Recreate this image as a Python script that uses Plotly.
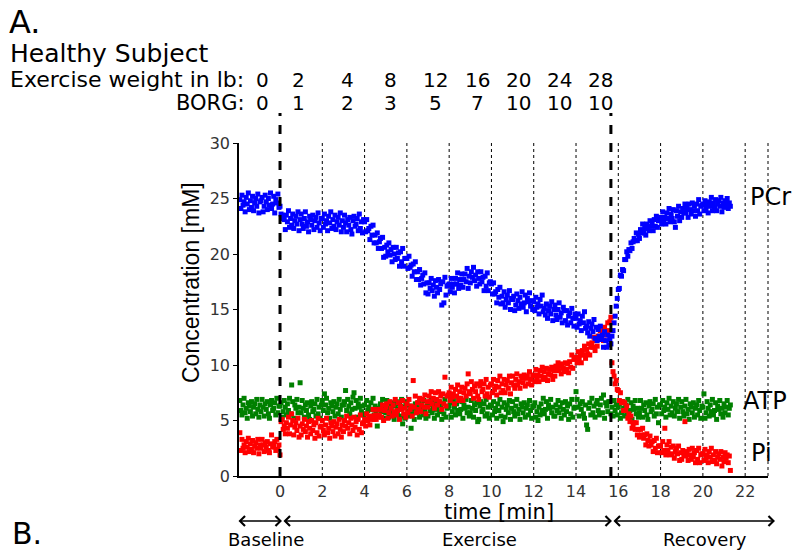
import plotly.graph_objects as go

# One sample every 0.05 min (3 s), starting 1.9 min before exercise onset
T_START = -1.9
DT = 0.05

pcr = [
    # baseline
    24.9, 24.1, 25.3, 24.4, 24.7, 23.8, 25.1, 24.5, 25.5, 24.0, 24.8, 24.2, 25.2, 23.9, 24.6, 25.0, 24.3, 25.4, 23.7, 24.7,
    24.8, 25.1, 23.8, 24.3, 25.3, 24.7, 24.0, 25.0, 24.4, 25.5, 24.1, 24.5, 25.2, 23.7, 24.9, 24.6, 25.4, 24.2,
    # exercise
    24.3, 23.6, 23.5, 23.2, 23.1, 22.2, 23.5, 22.9, 23.9, 22.4, 23.2, 22.6, 23.6, 22.3, 23.0, 23.4, 22.7, 23.8, 22.1, 23.1,
    23.6, 22.7, 22.3, 23.2, 23.8, 22.5, 22.9, 22.0, 23.4, 23.1, 22.6, 23.5, 22.2, 23.0, 23.3, 22.4, 23.7, 22.8, 22.1, 23.2,
    23.2, 22.4, 23.6, 22.7, 23.0, 22.1, 23.4, 22.8, 23.8, 22.3, 23.1, 22.5, 23.5, 22.2, 22.9, 23.3, 22.6, 23.7, 22.0, 23.0,
    22.4, 23.5, 22.8, 22.0, 23.1, 22.6, 23.3, 22.2, 21.8, 23.0, 23.4, 22.5, 22.7, 23.2, 22.1, 23.6, 22.3, 22.9, 21.9, 23.1,
    22.9, 22.0, 23.1, 22.1, 22.3, 21.3, 22.5, 21.7, 22.6, 21.0, 21.7, 21.0, 21.9, 20.5, 21.1, 21.4, 20.5, 21.5, 19.7, 20.6,
    19.8, 20.8, 20.2, 21.0, 19.9, 20.4, 19.3, 20.6, 20.0, 19.5, 20.6, 19.6, 20.1, 18.9, 20.2, 19.3, 20.5, 18.9, 19.6, 19.6,
    19.6, 18.7, 19.8, 18.8, 19.0, 18.0, 19.1, 18.4, 19.3, 17.7, 18.4, 17.7, 18.6, 17.2, 17.8, 18.1, 17.3, 18.3, 16.5, 17.4,
    16.4, 17.4, 16.9, 17.8, 16.7, 17.2, 16.2, 17.6, 17.0, 16.5, 17.7, 16.8, 17.3, 15.4, 17.5, 15.6, 17.9, 16.3, 17.1, 17.2,
    17.3, 16.6, 17.8, 17.0, 17.3, 16.5, 17.8, 17.3, 18.3, 16.9, 17.7, 17.2, 18.2, 17.0, 17.7, 18.2, 17.5, 18.7, 16.9, 18.0,
    17.4, 18.4, 17.9, 18.8, 17.6, 18.1, 17.1, 18.4, 17.8, 17.3, 18.4, 17.5, 17.9, 16.7, 18.0, 17.1, 18.3, 16.7, 17.4, 17.5,
    17.3, 16.4, 17.4, 16.4, 16.6, 15.6, 16.8, 16.1, 17.0, 15.5, 16.2, 15.6, 16.6, 15.2, 15.9, 16.3, 15.6, 16.7, 15.0, 16.0,
    15.9, 16.2, 14.9, 15.4, 16.4, 15.8, 15.1, 16.1, 15.5, 16.6, 15.2, 15.6, 16.3, 14.8, 16.0, 15.7, 16.5, 15.3, 15.8, 15.0,
    15.7, 14.9, 16.1, 15.2, 15.5, 14.6, 15.9, 15.3, 16.3, 14.8, 15.1, 14.5, 15.5, 14.2, 14.9, 15.3, 14.6, 15.7, 14.0, 15.0,
    15.4, 14.5, 14.1, 15.0, 15.6, 14.3, 14.7, 13.8, 15.2, 14.9, 14.0, 14.9, 13.6, 14.4, 14.7, 13.8, 15.1, 14.2, 13.5, 14.6,
    14.2, 13.4, 14.6, 13.7, 14.0, 13.1, 14.4, 13.8, 14.8, 13.3, 13.5, 12.9, 13.9, 12.6, 13.3, 13.7, 13.0, 14.1, 12.4, 13.4,
    12.2, 13.2, 12.6, 13.5, 12.3, 12.7, 11.6, 13.0, 12.2, 11.6, 12.7, 11.8,
    12.3, 11.9,
    # recovery
    12.6, 13.1, 13.8, 14.4, 15.3, 16.0,
    16.8, 16.9, 18.1, 18.0, 18.6, 18.5, 19.5, 19.5, 20.2, 19.8, 20.4, 20.3, 21.0, 20.5, 21.1, 21.4, 21.2, 21.9, 21.2, 21.8,
    21.4, 22.2, 21.9, 22.7, 21.9, 22.3, 21.7, 22.7, 22.4, 22.1, 23.0, 22.5, 22.8, 22.1, 23.1, 22.5, 23.4, 22.4, 23.0, 23.1,
    23.3, 22.7, 23.8, 23.0, 23.3, 22.7, 23.7, 23.2, 24.1, 22.9, 23.6, 23.2, 24.0, 22.9, 22.4, 23.9, 23.4, 24.3, 23.0, 23.8,
    23.3, 24.1, 23.7, 24.5, 23.7, 24.1, 23.3, 24.5, 24.0, 23.6, 24.6, 23.9, 24.3, 23.4, 24.5, 23.9, 24.9, 23.6, 24.3, 24.4,
    24.5, 23.9, 24.8, 24.1, 24.4, 23.7, 24.7, 24.3, 25.1, 23.9, 24.6, 24.2, 24.9, 23.9, 24.5, 24.8, 24.3, 25.1, 23.8, 24.6,
    24.2, 24.8, 24.4, 25.0, 24.1, 24.6, 24.3,
]

atp = [
    # baseline
    6.8, 5.9, 5.5, 6.4, 7.0, 5.7, 6.1, 5.2, 6.6, 6.3, 5.8, 6.7, 5.4, 6.2, 6.5, 5.6, 6.9, 6.0, 5.3, 6.4,
    5.8, 6.9, 6.2, 5.4, 6.5, 6.0, 6.7, 5.6, 5.2, 6.4, 6.8, 5.9, 6.1, 6.6, 5.5, 7.0, 5.7, 6.3,
    # exercise
    6.3, 6.6, 5.3, 5.8, 6.8, 6.2, 5.5, 6.5, 5.9, 7.0, 5.6, 8.2, 6.7, 5.2, 6.4, 6.1, 6.9, 5.7, 6.2, 8.4,
    5.7, 6.8, 6.1, 5.3, 6.4, 5.9, 6.6, 5.5, 5.1, 6.3, 6.7, 5.8, 6.0, 6.5, 5.4, 6.9, 5.6, 6.2, 5.2, 6.4,
    6.8, 5.9, 7.4, 6.4, 7.0, 5.7, 6.1, 5.2, 6.6, 6.3, 5.8, 6.7, 5.4, 6.2, 6.5, 5.6, 6.9, 6.0, 5.3, 6.4,
    6.4, 6.7, 7.7, 5.9, 6.9, 6.3, 5.6, 6.6, 6.0, 7.1, 7.5, 6.1, 6.8, 5.3, 6.5, 6.2, 7.0, 5.8, 6.3, 5.5,
    6.4, 5.6, 6.8, 5.9, 6.2, 5.3, 6.6, 6.0, 7.0, 5.5, 6.3, 5.7, 4.5, 5.4, 6.1, 6.5, 5.8, 6.9, 5.2, 6.2,
    5.7, 6.8, 6.1, 5.3, 6.4, 5.9, 6.6, 5.5, 5.1, 6.3, 6.7, 5.8, 6.0, 6.5, 5.4, 6.9, 4.7, 6.2, 5.2, 6.4,
    6.7, 5.8, 5.4, 6.3, 4.3, 5.6, 6.0, 5.1, 6.5, 6.2, 5.7, 6.6, 5.3, 6.1, 6.4, 5.5, 6.8, 5.9, 5.2, 6.3,
    5.4, 6.4, 5.9, 6.8, 5.7, 6.2, 5.2, 6.6, 6.0, 5.5, 6.7, 5.8, 6.3, 5.1, 6.5, 5.6, 6.9, 5.3, 6.1, 6.2,
    6.3, 6.6, 5.3, 5.8, 6.8, 6.2, 5.5, 6.5, 5.9, 7.0, 5.6, 6.0, 6.7, 5.2, 6.4, 6.1, 6.9, 5.7, 6.2, 5.4,
    5.7, 6.8, 6.1, 5.3, 6.4, 5.9, 6.6, 4.9, 5.1, 6.3, 6.7, 5.8, 6.0, 6.5, 5.4, 6.9, 5.6, 6.2, 5.2, 6.4,
    6.3, 5.5, 6.7, 5.8, 6.1, 5.2, 6.5, 5.9, 6.9, 5.4, 6.2, 4.9, 6.6, 5.3, 6.0, 6.4, 5.7, 6.8, 5.1, 6.1,
    6.7, 5.8, 5.4, 6.3, 6.9, 5.6, 6.0, 5.1, 6.5, 6.2, 5.7, 6.6, 5.3, 6.1, 6.4, 5.5, 6.8, 5.9, 5.2, 6.3,
    6.3, 6.6, 5.3, 5.8, 5.0, 6.2, 5.5, 6.5, 5.9, 7.0, 5.6, 6.0, 6.7, 5.2, 6.4, 6.1, 6.9, 5.7, 6.2, 5.4,
    5.4, 6.4, 5.9, 6.8, 5.7, 6.2, 5.2, 6.6, 6.0, 5.5, 6.7, 5.8, 6.3, 5.1, 6.5, 5.6, 6.9, 5.3, 6.1, 6.2,
    7.6, 6.9, 6.2, 5.4, 6.5, 6.0, 6.7, 5.6, 5.2, 6.4, 4.6, 4.2, 6.1, 6.6, 5.5, 7.0, 5.7, 6.3, 5.3, 6.5,
    6.8, 5.9, 5.5, 6.4, 7.0, 5.7, 7.3, 5.2, 6.6, 6.3, 5.8, 6.7,
    6.7, 5.6,
    # recovery
    6.2, 5.4, 6.8, 5.9, 6.4, 5.5,
    6.2, 6.5, 5.2, 5.7, 6.7, 6.1, 5.4, 6.4, 5.8, 6.9, 5.5, 5.9, 6.6, 5.1, 6.3, 6.0, 6.8, 5.6, 6.1, 5.3,
    5.7, 6.8, 6.1, 5.3, 6.4, 5.9, 6.6, 5.5, 5.1, 6.3, 6.7, 5.8, 6.0, 6.5, 5.4, 6.9, 5.6, 6.2, 4.8, 6.4,
    6.4, 5.6, 6.8, 5.9, 6.2, 5.3, 6.6, 6.0, 7.0, 5.5, 6.3, 5.7, 6.7, 5.4, 6.1, 6.5, 5.8, 6.9, 5.2, 6.2,
    6.7, 5.8, 5.4, 6.3, 6.9, 5.6, 6.0, 5.1, 6.5, 6.2, 5.7, 6.6, 5.3, 6.1, 6.4, 5.5, 6.8, 5.9, 5.2, 6.3,
    6.2, 7.4, 5.2, 5.7, 6.7, 6.1, 5.4, 6.4, 5.8, 6.9, 5.5, 5.9, 6.6, 5.1, 6.3, 6.0, 6.8, 5.6, 6.1, 5.3,
    6.5, 5.7, 6.2, 6.8, 5.5, 6.1, 6.4,
]

pi = [
    # baseline
    3.9, 2.3, 3.3, 2.5, 2.8, 2.1, 3.1, 2.6, 3.4, 2.2, 2.9, 2.4, 3.2, 2.1, 2.7, 3.0, 2.5, 3.3, 2.0, 2.8,
    2.5, 3.3, 2.8, 2.2, 3.0, 2.6, 3.1, 2.3, 2.1, 2.9, 3.7, 2.6, 2.7, 3.1, 2.3, 3.3, 2.4, 2.8,
    # exercise
    1.9, 4.9, 5.1, 4.2, 4.5, 3.8, 4.8, 4.3, 5.3, 3.8, 4.6, 5.6, 5.0, 3.7, 4.4, 4.8, 4.1, 5.2, 3.5, 4.5,
    3.7, 4.7, 4.2, 5.1, 4.0, 4.5, 3.5, 4.9, 4.3, 3.8, 5.0, 4.1, 4.6, 3.4, 4.8, 3.9, 5.2, 3.6, 4.4, 4.5,
    5.0, 4.1, 3.7, 4.6, 5.2, 3.9, 4.3, 3.4, 4.8, 4.5, 4.0, 4.9, 3.6, 4.4, 4.7, 3.8, 5.1, 4.2, 3.5, 4.6,
    4.0, 5.0, 4.5, 5.4, 4.3, 4.8, 3.8, 5.2, 4.6, 4.1, 5.3, 4.4, 4.9, 3.7, 5.1, 4.2, 5.5, 3.9, 4.7, 4.8,
    5.1, 4.5, 5.6, 5.0, 5.3, 4.6, 5.4, 5.1, 6.0, 5.1, 5.5, 5.1, 6.0, 5.3, 5.5, 6.0, 5.3, 6.4, 5.0, 5.9,
    6.2, 6.5, 5.2, 5.7, 6.7, 6.1, 5.4, 6.4, 5.8, 6.9, 5.5, 5.9, 6.6, 5.1, 6.3, 6.0, 6.8, 5.6, 6.1, 5.3,
    6.5, 5.7, 6.9, 6.0, 6.3, 5.4, 8.6, 6.2, 7.2, 5.7, 6.6, 6.0, 7.0, 5.8, 6.4, 6.9, 6.2, 7.3, 5.6, 6.7,
    6.2, 7.2, 6.7, 7.6, 6.5, 7.0, 6.1, 7.5, 6.9, 6.4, 7.6, 6.7, 7.2, 6.0, 7.4, 6.5, 8.9, 6.3, 7.2, 7.3,
    7.5, 6.8, 8.0, 7.1, 7.4, 6.5, 7.8, 7.2, 8.2, 6.8, 7.6, 7.0, 8.0, 6.8, 7.5, 7.9, 7.2, 8.3, 9.2, 7.6,
    7.4, 8.5, 7.8, 7.0, 8.1, 7.6, 8.3, 7.2, 6.9, 8.1, 8.5, 7.6, 7.8, 8.3, 7.2, 8.7, 7.4, 8.0, 7.1, 8.2,
    8.3, 7.5, 8.7, 7.8, 8.1, 7.3, 8.6, 8.0, 9.0, 7.5, 8.3, 7.7, 8.7, 7.5, 8.2, 8.6, 7.9, 9.0, 7.4, 8.4,
    9.0, 8.2, 7.9, 8.7, 9.2, 8.2, 8.5, 7.9, 9.0, 8.8, 8.4, 9.1, 8.1, 8.8, 9.0, 8.3, 9.4, 8.7, 8.2, 9.0,
    9.1, 8.5, 9.6, 8.8, 9.1, 8.5, 9.5, 9.0, 9.8, 8.7, 9.4, 8.9, 9.7, 8.6, 9.2, 9.6, 9.1, 9.8, 8.7, 9.5,
    9.0, 9.9, 9.5, 10.2, 9.5, 9.9, 9.2, 10.1, 9.7, 9.4, 10.2, 9.6, 10.1, 9.3, 10.3, 9.8, 10.9, 9.7, 10.5, 10.6,
    10.7, 10.2, 11.2, 10.5, 10.9, 10.2, 11.3, 10.9, 11.7, 10.6, 11.4, 11.0, 11.9, 10.9, 11.6, 12.0, 11.6, 12.5, 11.3, 12.2,
    11.7, 12.6, 12.3, 13.1, 12.4, 12.9, 12.2, 13.4, 13.0, 12.7, 13.8, 13.1,
    13.9, 14.3,
    # recovery
    10.2, 9.4, 9.0, 8.3, 8.6, 7.8,
    7.7, 6.8, 7.5, 6.6, 6.7, 5.9, 6.6, 5.9, 6.3, 5.2, 5.6, 4.9, 5.4, 4.3, 4.6, 4.8, 4.2, 4.8, 3.7, 4.2,
    3.5, 4.2, 3.7, 4.3, 3.4, 3.7, 2.8, 3.8, 3.2, 2.7, 3.6, 2.8, 3.1, 2.2, 3.2, 2.5, 3.4, 2.1, 2.7, 2.7,
    2.7, 2.1, 3.1, 2.3, 4.3, 1.9, 2.8, 2.3, 3.1, 1.9, 2.6, 2.0, 2.7, 1.6, 2.2, 2.5, 2.0, 2.7, 1.4, 2.1,
    1.5, 2.3, 1.9, 4.9, 1.8, 2.2, 1.4, 2.4, 1.9, 1.5, 2.5, 1.7, 2.1, 1.2, 2.3, 1.5, 2.5, 1.2, 1.9, 2.0,
    2.0, 1.4, 2.4, 1.6, 1.9, 1.2, 2.2, 1.7, 2.5, 1.3, 1.9, 1.4, 2.2, 1.1, 1.7, 2.0, 1.5, 2.2, 0.9, 1.7,
    1.3, 2.1, 1.6, 1.9, 1.2, 1.8, 0.5,
]

# Stage boundaries [min] and protocol table
exercise_start = 0.0
exercise_end = 15.65
grid_minutes = [2, 4, 6, 8, 10, 12, 14, 16, 18, 20, 22]
weights_lb = ["0", "2", "4", "8", "12", "16", "20", "24", "28"]
borg_scores = ["0", "1", "2", "3", "5", "7", "10", "10", "10"]
stage_names = ["Baseline", "Exercise", "Recovery"]
metabolite_names = ["PCr", "ATP", "Pi"]

X_RANGE = [-1.94, 23.08]
Y_RANGE = [0, 30]

# Figure geometry (pixels)
W, H = 795, 552
ML, MR, MT, MB = 239, 27, 143, 76
PW, PH = W - ML - MR, H - MT - MB


def px_x(px):
    return (px - ML) / PW


def px_y(py):
    return (H - MB - py) / PH


def times(vals):
    return [round(T_START + DT * i, 3) for i in range(len(vals))]


fig = go.Figure()
for vals, color in [(atp, "#008000"), (pi, "#ff0000"), (pcr, "#0000ff")]:
    fig.add_trace(go.Scatter(
        x=times(vals), y=vals, mode="markers",
        marker=dict(symbol="square", size=5, color=color, line=dict(width=0)),
        showlegend=False, cliponaxis=False,
    ))

shapes = []
for g in grid_minutes:
    shapes.append(dict(type="line", xref="x", yref="y", x0=g, x1=g, y0=0, y1=30,
                       line=dict(color="black", width=1, dash="dot"), layer="below"))
shapes.append(dict(type="line", xref="paper", yref="y", x0=1, x1=1, y0=0, y1=30,
                   line=dict(color="black", width=1, dash="dot"), layer="below"))
for xb in [exercise_start, exercise_end]:
    shapes.append(dict(type="line", xref="x", yref="paper", x0=xb, x1=xb, y0=0, y1=px_y(113),
                       line=dict(color="black", width=3, dash="dash")))

ann = []
arial = "Liberation Sans, Arial, sans-serif"
dejavu = "DejaVu Sans, sans-serif"


def text(t, px, py, size, family=dejavu, xanchor="left", color="black", **kw):
    ann.append(dict(text=t, xref="paper", yref="paper", x=px_x(px), y=px_y(py),
                    xanchor=xanchor, yanchor="middle", showarrow=False,
                    font=dict(size=size, family=family, color=color), **kw))


text("A.", 7, 22, 32)
text("Healthy Subject", 8, 53, 25)
text("Exercise weight in lb:", 8, 80, 22)
text("BORG:", 247, 103, 21, xanchor="right")

num_x = [262, 298, 347, 390, 435, 477, 518, 559, 600]
for xp, w, b in zip(num_x, weights_lb, borg_scores):
    text(w, xp, 80, 20, xanchor="center")
    text(b, xp, 103, 20, xanchor="center")

text("Concentration [mM]", 191, 283, 23, family=arial, xanchor="center", textangle=-90)
text("time [min]", 499, 512, 21, xanchor="center")

text(metabolite_names[0], 748, 197, 24)
text(metabolite_names[1], 741, 401, 24)
text(metabolite_names[2], 749, 453, 24)

text("B.", 10, 533, 30)

# Stage arrows below the time axis
stage_px = [(237, 282), (282, 612), (612, 775)]
label_px = [266, 479, 705]
for (a, b), lx, name in zip(stage_px, label_px, stage_names):
    ann.append(dict(text="", xref="paper", yref="paper", x=px_x(b), y=px_y(521),
                    ax=-(b - a), ay=0, showarrow=True, arrowside="end+start",
                    arrowhead=4, arrowsize=1.2, arrowwidth=1.6, arrowcolor="black",
                    standoff=0, startstandoff=0))
    text(name, lx, 539, 18, xanchor="center")

fig.update_layout(
    width=W, height=H,
    margin=dict(l=ML, r=MR, t=MT, b=MB),
    paper_bgcolor="white", plot_bgcolor="white",
    shapes=shapes, annotations=ann,
    xaxis=dict(range=X_RANGE, tickvals=[0, 2, 4, 6, 8, 10, 12, 14, 16, 18, 20, 22],
               showgrid=False, zeroline=False, showline=True, linecolor="black", linewidth=1.5,
               ticks="", tickfont=dict(size=16, family=dejavu, color="#333333")),
    yaxis=dict(range=Y_RANGE, tickvals=[0, 5, 10, 15, 20, 25, 30],
               showgrid=False, zeroline=False, showline=True, linecolor="black", linewidth=1.5,
               ticks="outside", ticklen=4, tickcolor="black",
               tickfont=dict(size=16, family=dejavu, color="#333333")),
)

fig.write_html("out.html")
